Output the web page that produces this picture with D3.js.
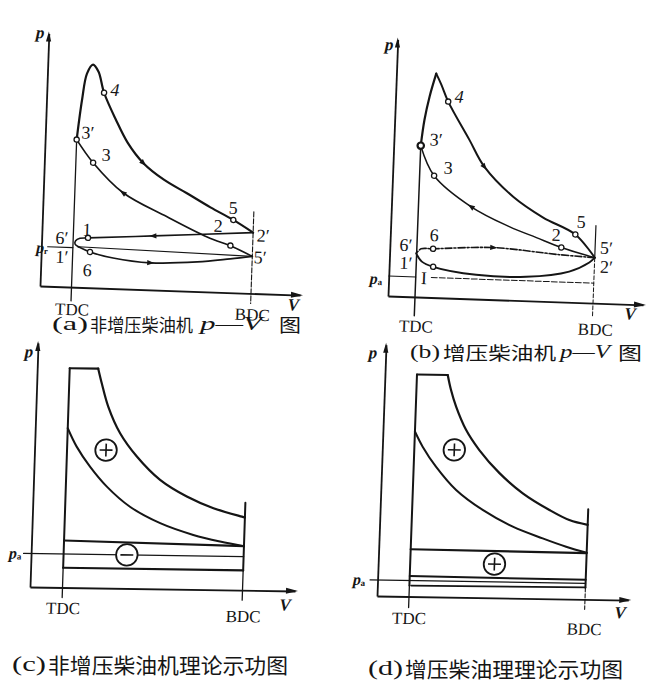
<!DOCTYPE html>
<html><head><meta charset="utf-8">
<script src="https://cdn.jsdelivr.net/npm/d3@7"></script>
<style>html,body{margin:0;padding:0;background:#fff}svg{display:block}</style>
</head><body>
<svg id="chart" width="652" height="697"></svg>
<script>
// ---------- DATA (V, p in relative units) ----------
// Panel (a) non-supercharged diesel p-V
const aOuter   = [[12.6,59],[14.2,75],[15.8,85.5],[18.1,89.2],[20.4,86.4],[22.9,78.1],[28,67.5],[33,58.5],[39.5,50.6],[48,44.2],[57.4,39.1],[67,33.8],[76.3,29.1],[84.4,24.3]];
const aInner   = [[12.6,59],[19.5,50],[31.9,38.4],[49.8,29.4],[66.1,21.9],[76.6,18.3],[84.4,14.8]];
const aExhaust = [[84.4,24.3],[44.6,21.6],[18.5,19.9],[15.3,19.6],[13.6,18.6],[13.4,17.3],[14.8,16.2]];
const aChord   = [[14.8,16.2],[84.4,14.8]];
const aIntake  = [[14.8,16.2],[19.5,14.3],[28.8,12.2],[43.7,10.8],[62.5,11.8],[75.6,13.5],[84.4,14.8]];
const aPr      = [[2.5,15.8],[12.6,15.8]];
const aTDC     = [[12.6,59],[12.6,-5.5]];
const aBDC     = [[84.4,32.6],[84.4,-4]];
const aPoints  = [[22.9,78.1],[12.6,59],[19.5,50],[76.3,29.1],[75.5,18.8],[18.5,19.9],[19.5,14.3]];
const aLabels  = [["4",27.2,79.4],["3′",17,61.9],["3",24.6,53.3],["5",76.1,33.9],["2",70.4,26.5],["2′",88.5,23.2],["5′",87.6,14.5],["6′",8.1,19.5],["1′",8.4,11.9],["1",18,23.2],["6",18.6,7]];

// Panel (b) supercharged diesel p-V
const bRise    = [[10.8,60.5],[11.9,70.9],[13.6,80.3],[15.9,89.5]];
const bFall    = [[15.9,89.5],[18.1,85.2],[21.1,78.5],[30.1,63.6],[36.5,53],[48.5,41.4],[60.8,33.5],[73.9,27.2],[82,18.2]];
const bInner   = [[10.8,60.5],[16.6,48.7],[31.9,36.8],[47.4,29.4],[58.4,25.4],[68.5,21.8],[82,18.2]];
const bUpper   = [[82,18.2],[67.8,18.9],[41.3,20.8],[17.3,19.5],[12.5,19.3],[10.6,17.4]];
const bLower   = [[10.6,17.4],[13,14.2],[17.6,12.3],[34.9,9.7],[54.9,9.6],[72,12.3],[79.9,16.2],[82,18.2]];
const bPa      = [[0,8],[10.8,8]];
const bPaDash  = [[17,8],[82,8]];
const bTDC     = [[10.8,60.5],[10.8,-7.5]];
const bBDC     = [[82,31],[82,18.2]];
const bBDCDash = [[82,18.2],[82,-5]];
const bPoints  = [[21.1,78.5],[16.6,48.7],[73.9,27.2],[68.5,21.8],[17.3,19.5],[17.6,12.3]];
const bLabels  = [["4",25.4,80.6],["3′",16.9,63.1],["3",22.1,52],["5",76.1,32.3],["2",66.3,26.8],["5′",86.5,22.2],["2′",86.8,14.6],["6′",6.4,20.6],["6",17.5,25],["1′",6.7,13.4],["I",14.1,7.7]];

// Panel (c) non-supercharged theoretical indicator diagram
const cTop     = [[13,87.7],[24.4,87.7]];
const cOuter   = [[24.4,87.7],[26,81.9],[28.9,72.6],[34,62],[41,52.8],[50.6,43.6],[61.5,37.1],[72.3,32.6],[83.8,29.4],[85,29.1]];
const cInner   = [[13,63.7],[16.8,56.4],[22.4,48.5],[29.4,40.6],[38.9,32.7],[51.2,26.3],[64.6,21.8],[75.4,19.3],[85,17.6]];
const cRectTop = [[13,18.8],[85,17.6]];
const cRectBot = [[13,7.9],[85,7.9]];
const cPa      = [[-3,13.4],[85,13.4]];
const cTDC     = [[13,87.7],[13,7.9]];
const cTDCLow  = [[13,7.9],[13,-4]];
const cBDC     = [[85,35],[85,7.9]];
const cBDCLow  = [[85,7.9],[85,-4]];
const cSigns   = [["+",28.6,55.2],["−",38.3,13.4]];

// Panel (d) supercharged theoretical indicator diagram
const dTop     = [[12.8,88.8],[25.1,88.8]];
const dOuter   = [[25.1,88.8],[26.6,82.9],[28.9,76.2],[33.2,67],[38.8,59],[47.2,49.9],[56.8,42],[67.7,35.5],[75.8,31.6],[83.2,29.8]];
const dInner   = [[12.8,66],[16.1,60],[21.7,52.1],[30.1,42.9],[41,35.1],[53.3,28.6],[65.4,24.1],[74.9,20.9],[83.2,18.6]];
const dRectTop = [[12.8,18.9],[83.2,18.5]];
const dRectMid = [[12.8,8.2],[83.2,7.8]];
const dPa      = [[-3,6.4],[83.2,6.4]];
const dRectBot = [[13.5,4.4],[83.2,4.8]];
const dTDC     = [[12.8,88.8],[12.8,4.4]];
const dTDCLow  = [[12.8,4.4],[12.8,-4.4]];
const dBDC     = [[83.2,36],[83.2,4.6]];
const dBDCLow  = [[83.2,4.6],[83.2,-4]];
const dSigns   = [["+",28.8,58.9],["+",46.5,13.5]];

// Captions
const capA = ["(a)","非增压柴油机","p—V","图"];
const capB = ["(b)","增压柴油机","p—V","图"];
const capC = ["(c)","非增压柴油机理论示功图"];
const capD = ["(d)","增压柴油理理论示功图"];

// ---------- DRAWING ----------
const svg = d3.select("#chart");
const K = 2.5;
const SERIF = "'Liberation Serif','DejaVu Serif',serif";
const CJK = "'Noto Sans CJK SC','Noto Sans CJK JP',sans-serif";
const INK = "#151515";
const smooth = d3.curveCatmullRom.alpha(0.5);

function panel(ox, oy, b, c) {
  const g = svg.append("g").attr("transform", `matrix(1,${b},${c},1,${ox},${oy})`);
  const x = d3.scaleLinear().domain([0, 100]).range([0, 100 * K]);
  const y = d3.scaleLinear().domain([0, 100]).range([0, -100 * K]);
  return {g, x, y};
}
function line(P, data, w, opts = {}) {
  const gen = d3.line().x(d => P.x(d[0])).y(d => P.y(d[1])).curve(opts.curve || smooth);
  return P.g.append("path").attr("d", gen(data)).attr("fill", "none")
    .attr("stroke", INK).attr("stroke-width", w)
    .attr("stroke-dasharray", opts.dash || null)
    .attr("stroke-linejoin", "round").attr("stroke-linecap", opts.cap || "round");
}
function axes(P, xMax, yMax) {
  const xa = P.x.copy().domain([0, xMax]).range([0, P.x(xMax)]);
  const ya = P.y.copy().domain([0, yMax]).range([0, P.y(yMax)]);
  P.g.append("g").call(d3.axisBottom(xa).tickValues([]).tickSizeOuter(0))
    .call(s => s.select(".domain").attr("stroke", INK).attr("stroke-width", 1.8));
  P.g.append("g").call(d3.axisLeft(ya).tickValues([]).tickSizeOuter(0))
    .call(s => s.select(".domain").attr("stroke", INK).attr("stroke-width", 1.8));
  const ex = P.x(xMax), ey = P.y(yMax);
  P.g.append("path").attr("d", `M${ex + 3},0L${ex - 9},-3L${ex - 9},3Z`).attr("fill", INK);
  P.g.append("path").attr("d", `M0,${ey - 2}L-2.6,${ey + 8}L2.6,${ey + 8}Z`).attr("fill", INK);
}
function text(P, t, v, p, size, opts = {}) {
  return P.g.append("text").attr("x", P.x(v)).attr("y", P.y(p))
    .attr("text-anchor", opts.anchor || "middle").attr("dominant-baseline", "central")
    .attr("font-family", opts.family || SERIF).attr("font-size", size)
    .attr("font-style", opts.italic ? "italic" : null)
    .attr("font-weight", opts.bold ? "bold" : null)
    .attr("fill", INK).text(t);
}
function subLabel(P, main, sub, v, p) {
  const t = P.g.append("text").attr("x", P.x(v)).attr("y", P.y(p))
    .attr("text-anchor", "middle").attr("dominant-baseline", "central")
    .attr("font-family", SERIF).attr("fill", INK);
  t.append("tspan").attr("font-size", 16).attr("font-style", "italic").attr("font-weight", "bold").text(main);
  t.append("tspan").attr("font-size", 9).attr("font-weight", "bold").attr("dy", 4).text(sub);
}
function marker(P, pt, r, w) {
  P.g.append("circle").attr("cx", P.x(pt[0])).attr("cy", P.y(pt[1])).attr("r", r)
    .attr("fill", "#fff").attr("stroke", INK).attr("stroke-width", w);
}
function arrow(P, data, i, dir) {
  const a = data[Math.max(0, i - 1)], b = data[Math.min(data.length - 1, i + 1)];
  let ang = Math.atan2(P.y(b[1]) - P.y(a[1]), P.x(b[0]) - P.x(a[0])) * 180 / Math.PI;
  if (dir < 0) ang += 180;
  P.g.append("path").attr("d", "M4,0L-3,-2.6L-3,2.6Z").attr("fill", INK)
    .attr("transform", `translate(${P.x(data[i][0])},${P.y(data[i][1])}) rotate(${ang})`);
}
function sign(P, s) {
  const cx = P.x(s[1]), cy = P.y(s[2]), r = P.x(4.3) - P.x(0);
  P.g.append("circle").attr("cx", cx).attr("cy", cy).attr("r", r).attr("fill", "#fff").attr("stroke", INK).attr("stroke-width", 1.8);
  P.g.append("line").attr("x1", cx - r * 0.6).attr("x2", cx + r * 0.6).attr("y1", cy).attr("y2", cy).attr("stroke", INK).attr("stroke-width", 1.6);
  if (s[0] === "+") P.g.append("line").attr("x1", cx).attr("x2", cx).attr("y1", cy - r * 0.6).attr("y2", cy + r * 0.6).attr("stroke", INK).attr("stroke-width", 1.6);
}
function axisText(P, pv, pp, vv, vp, tdc, bdc) {
  text(P, "p", pv, pp, 17, {italic: true, bold: true});
  text(P, "V", vv, vp, 17, {italic: true, bold: true});
  text(P, "TDC", tdc[0], tdc[1], 17);
  text(P, "BDC", bdc[0], bdc[1], 17);
}
function caption(parts, xs, lens, y, size) {
  parts.forEach((t, i) => {
    const isCJK = /[\u4e00-\u9fff]/.test(t);
    svg.append("text").attr("x", xs[i]).attr("y", y).attr("dominant-baseline", "central")
      .attr("font-family", isCJK ? CJK : SERIF).attr("font-size", size).attr("fill", INK)
      .attr("font-style", t.includes("V") ? "italic" : null)
      .attr("textLength", lens[i]).attr("lengthAdjust", "spacingAndGlyphs").text(t);
  });
}

// ----- Panel (a) -----
const A = panel(40, 286, 0.035, -0.035);
axes(A, 104, 101);
line(A, aTDC, 1.3, {curve: d3.curveLinear});
line(A, aBDC, 1.1, {curve: d3.curveLinear, dash: "5,2"});
line(A, aPr, 1.1, {curve: d3.curveLinear});
line(A, aOuter, 2.2);
line(A, aInner, 1.7);
line(A, aExhaust, 1.6);
line(A, aChord, 1.1, {curve: d3.curveLinear});
line(A, aIntake, 1.7);
arrow(A, aOuter, 8, 1); arrow(A, aInner, 2, -1); arrow(A, aExhaust, 1, 1); arrow(A, aIntake, 3, 1);
aPoints.forEach(p => marker(A, p, 2.6, 1.3));
aLabels.forEach(l => text(A, l[0], l[1], l[2], 18, {italic: l[0] === "4"}));
subLabel(A, "p", "r", 0.3, 15.6);
axisText(A, -3.5, 101.2, 101.5, -4, [13.1, -9], [85.2, -8.6]);

// ----- Panel (b) -----
const B = panel(388, 296, 0.035, -0.038);
axes(B, 102, 102.6);
line(B, bTDC, 1.5, {curve: d3.curveLinear});
line(B, bBDC, 1.2, {curve: d3.curveLinear});
line(B, bBDCDash, 1.0, {curve: d3.curveLinear, dash: "4,2"});
line(B, bPa, 1.1, {curve: d3.curveLinear});
line(B, bPaDash, 1.0, {curve: d3.curveLinear, dash: "6,2"});
line(B, bRise, 2.2);
line(B, bFall, 2.0);
line(B, bInner, 1.5);
line(B, bUpper, 1.6, {dash: "7,2,2,2"});
line(B, bLower, 1.9);
arrow(B, bFall, 4, 1); arrow(B, bInner, 2, -1); arrow(B, bUpper, 2, -1);
bPoints.forEach(p => marker(B, p, 2.6, 1.3));
marker(B, bRise[0], 3.2, 2.2);
bLabels.forEach(l => text(B, l[0], l[1], l[2], 18, {italic: l[0] === "4"}));
subLabel(B, "p", "a", -5.1, 7);
axisText(B, -3.3, 100.4, 97, -3.8, [11.6, -11.8], [83.3, -10.6]);

// ----- Panel (c) -----
const C = panel(30, 587, 0.015, -0.033);
axes(C, 106, 97.6);
line(C, cTDC, 2.0, {curve: d3.curveLinear});
line(C, cTDCLow, 1.3, {curve: d3.curveLinear});
line(C, cBDC, 2.0, {curve: d3.curveLinear});
line(C, cBDCLow, 1.3, {curve: d3.curveLinear});
line(C, cTop, 2.2, {curve: d3.curveLinear});
line(C, cOuter, 2.2);
line(C, cInner, 2.0);
line(C, cRectTop, 2.2, {curve: d3.curveLinear});
line(C, cRectBot, 2.2, {curve: d3.curveLinear});
line(C, cPa, 1.3, {curve: d3.curveLinear});
cSigns.forEach(s => sign(C, s));
subLabel(C, "p", "a", -6.4, 13.7);
axisText(C, -3.5, 94, 102.2, -5.7, [13.5, -8.4], [85.6, -10.6]);

// ----- Panel (d) -----
const D = panel(377, 596, 0.016, -0.036);
axes(D, 100.5, 100.5);
line(D, dTDC, 2.0, {curve: d3.curveLinear});
line(D, dTDCLow, 1.3, {curve: d3.curveLinear});
line(D, dBDC, 2.0, {curve: d3.curveLinear});
line(D, dBDCLow, 1.1, {curve: d3.curveLinear, dash: "4,2"});
line(D, dTop, 2.2, {curve: d3.curveLinear});
line(D, dOuter, 2.2);
line(D, dInner, 2.0);
line(D, dRectTop, 2.2, {curve: d3.curveLinear});
line(D, dRectMid, 2.0, {curve: d3.curveLinear});
line(D, dPa, 1.2, {curve: d3.curveLinear});
line(D, dRectBot, 1.8, {curve: d3.curveLinear});
dSigns.forEach(s => sign(D, s));
subLabel(D, "p", "a", -7.4, 6.7);
axisText(D, -5.1, 97.2, 97.4, -5.2, [13.1, -8.8], [83.3, -12]);

// ----- Captions -----
caption(capA, [52, 90, 200, 279], [36, 103, 62, 22], 324, 18);
caption(capB, [410, 443, 560, 618], [30, 113, 50, 24], 352, 18);
caption(capC, [12, 48], [34, 240], 664, 21);
caption(capD, [368, 405], [35, 218], 668, 21);
</script>
</body></html>
